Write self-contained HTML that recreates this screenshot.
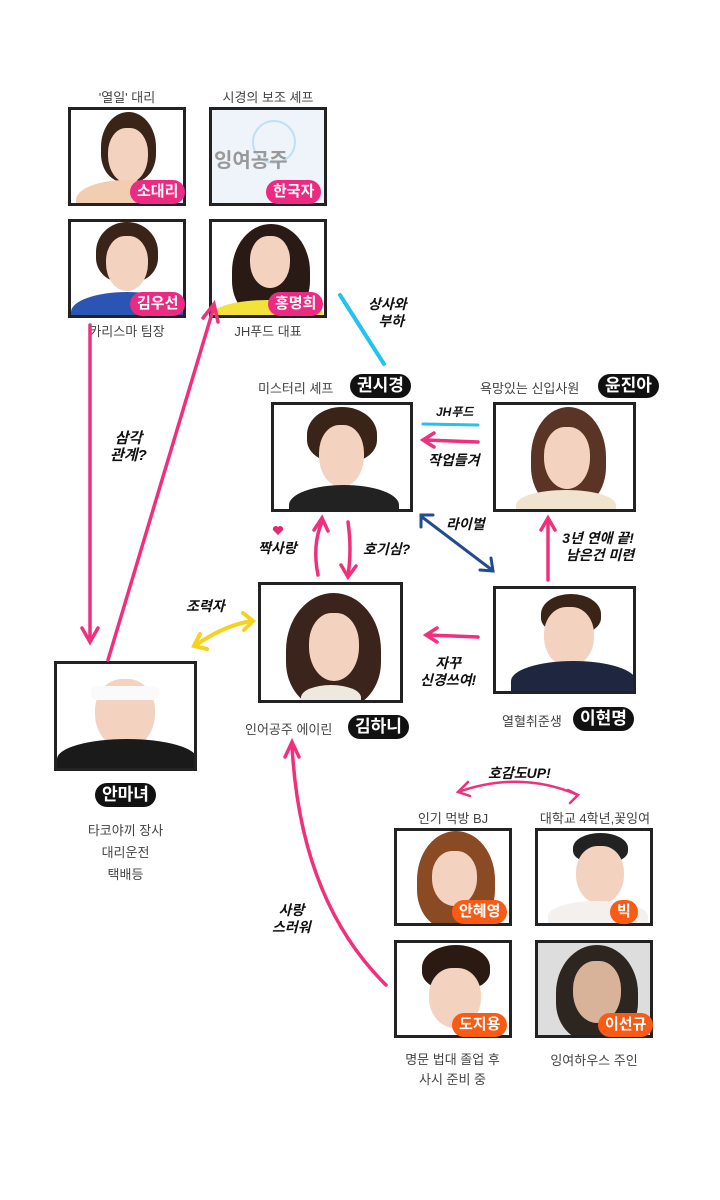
<!DOCTYPE html>
<html><head><meta charset="utf-8"><style>
body{margin:0;background:#fff}
#c{position:relative;width:720px;height:1200px;overflow:hidden;font-family:"Liberation Sans","Noto Sans CJK KR",sans-serif;color:#444}
.b{position:absolute;border:3px solid #222;box-sizing:border-box;background:#f6f3f0;overflow:hidden}
.hair{position:absolute;border-radius:50% 50% 40% 40%;background:#3a2418}
.face{position:absolute;border-radius:45% 45% 50% 50%;background:#f3d3bf}
.body{position:absolute;border-radius:50% 50% 0 0}
.t{position:absolute;font-size:13px;color:#444;white-space:nowrap;text-align:center}
.tag{position:absolute;color:#fff;font-weight:bold;font-size:15px;border-radius:14px;padding:2px 7px;white-space:nowrap;line-height:20px}
.p{background:#ec2a82}.k{background:#111;font-size:17px}.o{background:#f95a14}
.h{position:absolute;font-size:14px;font-weight:bold;color:#111;font-style:italic;white-space:nowrap;text-align:center;line-height:17px}
</style></head><body><div id="c">

<div class="t" style="left:68px;top:87px;width:118px">'열일' 대리</div>
<div class="t" style="left:209px;top:87px;width:118px">시경의 보조 셰프</div>

<div class="b" style="left:68px;top:107px;width:118px;height:99px;background:#fff">
 <div class="hair" style="left:30px;top:2px;width:55px;height:70px"></div>
 <div class="face" style="left:37px;top:18px;width:40px;height:55px"></div>
 <div class="body" style="left:5px;top:70px;width:100px;height:40px;background:#f2cdb2"></div>
</div>
<div class="tag p" style="left:130px;top:180px">소대리</div>

<div class="b" style="left:209px;top:107px;width:118px;height:99px;background:#eef4fa">
 <div style="position:absolute;left:40px;top:10px;width:40px;height:40px;border-radius:50%;border:2px solid #bfe0f2"></div>
 <div style="position:absolute;left:2px;top:34px;font-size:20px;font-weight:bold;color:#999">잉여공주</div>
</div>
<div class="tag p" style="left:266px;top:180px">한국자</div>

<div class="b" style="left:68px;top:219px;width:118px;height:99px;background:#fff">
 <div class="hair" style="left:25px;top:0px;width:62px;height:60px"></div>
 <div class="face" style="left:35px;top:14px;width:42px;height:55px"></div>
 <div class="body" style="left:0px;top:70px;width:112px;height:40px;background:#2b55b5"></div>
</div>
<div class="tag p" style="left:130px;top:292px">김우선</div>

<div class="b" style="left:209px;top:219px;width:118px;height:99px;background:#fff">
 <div class="hair" style="left:20px;top:2px;width:78px;height:95px;background:#2a1a15"></div>
 <div class="face" style="left:38px;top:14px;width:40px;height:52px"></div>
 <div class="body" style="left:0px;top:78px;width:112px;height:30px;background:#f2e23a"></div>
</div>
<div class="tag p" style="left:268px;top:292px">홍명희</div>

<div class="t" style="left:68px;top:321px;width:118px">카리스마 팀장</div>
<div class="t" style="left:209px;top:321px;width:118px">JH푸드 대표</div>

<div class="t" style="left:258px;top:378px">미스터리 셰프</div>
<div class="tag k" style="left:350px;top:374px">권시경</div>
<div class="t" style="left:480px;top:378px">욕망있는 신입사원</div>
<div class="tag k" style="left:598px;top:374px">윤진아</div>

<div class="b" style="left:271px;top:402px;width:142px;height:110px;background:#fff">
 <div class="hair" style="left:33px;top:2px;width:70px;height:55px"></div>
 <div class="face" style="left:45px;top:20px;width:45px;height:62px"></div>
 <div class="body" style="left:15px;top:80px;width:110px;height:40px;background:#222"></div>
</div>
<div class="b" style="left:493px;top:402px;width:143px;height:110px;background:#fff">
 <div class="hair" style="left:35px;top:2px;width:75px;height:100px;background:#5a3424"></div>
 <div class="face" style="left:48px;top:22px;width:46px;height:62px"></div>
 <div class="body" style="left:20px;top:85px;width:100px;height:30px;background:#f0e4cf"></div>
</div>

<div class="b" style="left:258px;top:582px;width:145px;height:121px;background:#fff">
 <div class="hair" style="left:25px;top:8px;width:95px;height:115px;background:#3b241c"></div>
 <div class="face" style="left:48px;top:28px;width:50px;height:68px"></div>
 <div class="body" style="left:40px;top:100px;width:60px;height:25px;background:#eee9df"></div>
</div>
<div class="t" style="left:245px;top:719px">인어공주 에이린</div>
<div class="tag k" style="left:348px;top:715px">김하니</div>

<div class="b" style="left:493px;top:586px;width:143px;height:108px;background:#fff">
 <div class="hair" style="left:45px;top:5px;width:60px;height:40px"></div>
 <div class="face" style="left:48px;top:18px;width:50px;height:60px"></div>
 <div class="body" style="left:15px;top:72px;width:125px;height:40px;background:#1e2640"></div>
</div>
<div class="t" style="left:502px;top:711px">열혈취준생</div>
<div class="tag k" style="left:573px;top:707px">이현명</div>

<div class="b" style="left:54px;top:661px;width:143px;height:110px;background:#fff">
 <div class="face" style="left:38px;top:15px;width:60px;height:70px"></div>
 <div style="position:absolute;left:34px;top:22px;width:68px;height:14px;background:#fafafa;border-radius:6px"></div>
 <div class="body" style="left:0px;top:75px;width:140px;height:40px;background:#1a1a1a"></div>
</div>
<div class="tag k" style="left:95px;top:783px">안마녀</div>
<div class="t" style="left:54px;top:820px;width:143px;line-height:22px">타코야끼 장사<br>대리운전<br>택배등</div>

<div class="h" style="left:488px;top:765px">호감도UP!</div>
<div class="t" style="left:394px;top:808px;width:118px">인기 먹방 BJ</div>
<div class="t" style="left:525px;top:808px;width:140px">대학교 4학년,꽃잉여</div>

<div class="b" style="left:394px;top:828px;width:118px;height:98px;background:#fff">
 <div class="hair" style="left:20px;top:0px;width:78px;height:98px;background:#8a4a24"></div>
 <div class="face" style="left:35px;top:20px;width:45px;height:55px"></div>
</div>
<div class="tag o" style="left:452px;top:900px">안혜영</div>
<div class="b" style="left:535px;top:828px;width:118px;height:98px;background:#fff">
 <div class="hair" style="left:35px;top:2px;width:55px;height:30px;background:#222"></div>
 <div class="face" style="left:38px;top:15px;width:48px;height:58px"></div>
 <div class="body" style="left:10px;top:70px;width:100px;height:30px;background:#f4f0ee"></div>
</div>
<div class="tag o" style="left:610px;top:900px">빅</div>
<div class="b" style="left:394px;top:940px;width:118px;height:98px;background:#fff">
 <div class="hair" style="left:25px;top:2px;width:68px;height:45px;background:#2a1a12"></div>
 <div class="face" style="left:32px;top:25px;width:52px;height:60px"></div>
</div>
<div class="tag o" style="left:452px;top:1013px">도지용</div>
<div class="b" style="left:535px;top:940px;width:118px;height:98px;background:#ddd">
 <div class="hair" style="left:18px;top:2px;width:82px;height:96px;background:#2d2520"></div>
 <div class="face" style="left:35px;top:18px;width:48px;height:62px;background:#d9b29a"></div>
</div>
<div class="tag o" style="left:598px;top:1013px">이선규</div>

<div class="t" style="left:380px;top:1050px;width:145px;line-height:20px">명문 법대 졸업 후<br>사시 준비 중</div>
<div class="t" style="left:535px;top:1050px;width:118px">잉여하우스 주인</div>

<svg width="720" height="1200" style="position:absolute;left:0;top:0" fill="none" stroke-linecap="round">
 <g stroke="#f0307d" stroke-width="3.5">
  <path d="M90 325 L90 640"/><path d="M82 628 L90 642 L98 628"/>
  <path d="M108 660 L213 310"/><path d="M203 318 L214 304 L218 322"/>
  <path d="M478 442 L425 440"/><path d="M434 433 L423 440 L434 447"/>
  <path d="M318 575 Q312 545 322 522"/><path d="M314 530 L322 518 L328 531"/>
  <path d="M348 522 Q352 550 348 575"/><path d="M341 565 L348 577 L356 566"/>
  <path d="M548 580 L548 520"/><path d="M541 530 L548 518 L555 530"/>
  <path d="M478 637 L428 635"/><path d="M437 628 L426 635 L437 642"/>
  <path d="M386 985 Q300 900 292 745"/><path d="M285 757 L292 742 L299 757"/>
 </g>
 <path d="M458 792 Q520 770 578 795" stroke="#f0307d" stroke-width="2.5"/>
 <path d="M468 782 L458 792 L470 796 M568 790 L578 795 L570 803" stroke="#f0307d" stroke-width="2.5"/>
 <path d="M340 295 L384 364" stroke="#22c3ee" stroke-width="4"/>
 <path d="M423 424 L478 425" stroke="#22c3ee" stroke-width="3"/>
 <path d="M422 517 L492 570" stroke="#234c8f" stroke-width="3"/>
 <path d="M421 527 L421 515 L433 515 M480 570 L493 571 L491 558" stroke="#234c8f" stroke-width="3"/>
 <path d="M196 645 Q225 625 252 621" stroke="#f7d21c" stroke-width="4"/>
 <path d="M200 634 L194 646 L207 649 M243 613 L253 621 L244 630" stroke="#f7d21c" stroke-width="4"/>
 <path d="M278 535 l-5-5 a3 3 0 0 1 5-3 a3 3 0 0 1 5 3z" fill="#e8256f" stroke="none"/>
</svg>

<div class="h" style="left:368px;top:296px">상사와<br>&nbsp;&nbsp;부하</div>
<div class="h" style="left:110px;top:430px;font-size:15px">삼각<br>관계?</div>
<div class="h" style="left:436px;top:404px;font-size:12px">JH푸드</div>
<div class="h" style="left:428px;top:452px">작업들겨</div>
<div class="h" style="left:258px;top:540px">짝사랑</div>
<div class="h" style="left:363px;top:541px">호기심?</div>
<div class="h" style="left:446px;top:516px">라이벌</div>
<div class="h" style="left:562px;top:530px">3년 연애 끝!<br>&nbsp;남은건 미련</div>
<div class="h" style="left:186px;top:598px">조력자</div>
<div class="h" style="left:420px;top:655px">자꾸<br>신경쓰여!</div>
<div class="h" style="left:272px;top:902px">사랑<br>스러워</div>
</div></body></html>
